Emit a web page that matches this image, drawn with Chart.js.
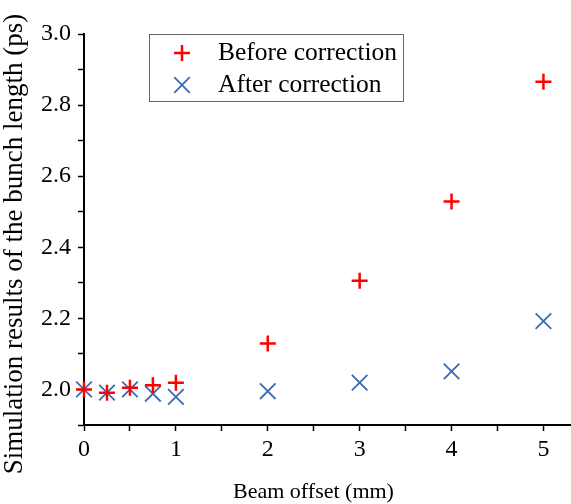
<!DOCTYPE html>
<html lang="en">
<head>
    <meta charset="UTF-8">
    <script src="https://cdn.jsdelivr.net/npm/chart.js@4.4.1/dist/chart.umd.min.js"></script>
    <title>Bunch length</title>
    <style>
        html, body { margin: 0; padding: 0; background: #fff; overflow: hidden; }
        canvas { display: block; }
    </style>
</head>
<body>
    <canvas id="grafico" width="571" height="504"></canvas>
<script>
    // dati
    var offset = [0, 0.25, 0.5, 0.75, 1, 2, 3, 4, 5];
    var beforeCorrection = [2.000, 1.991, 2.005, 2.012, 2.019, 2.129, 2.306, 2.529, 2.866];
    var afterCorrection = [2.000, 1.991, 2.000, 1.988, 1.979, 1.995, 2.019, 2.051, 2.192];
    var xTicks = [0, 0.5, 1, 1.5, 2, 2.5, 3, 3.5, 4, 4.5, 5];
    var yTicks = [1.9, 2.0, 2.1, 2.2, 2.3, 2.4, 2.5, 2.6, 2.7, 2.8, 2.9, 3.0];
    var xTitolo = 'Beam offset (mm)';
    var yTitolo = 'Simulation results of the bunch length (ps)';

    var serif = "'Liberation Serif', 'Times New Roman', serif";
    var red = 'rgb(255, 0, 0)';
    var blue = 'rgb(58, 106, 178)';

    function punti(ys) {
        return offset.map(function(x, i) { return {x: x, y: ys[i]}; });
    }

    // legenda con cornice dentro l'area del grafico + titoli degli assi
    var legendaBox = {
        id: 'legendaBox',
        afterDraw: function(chart) {
            var ctx = chart.ctx;
            ctx.save();
            ctx.strokeStyle = '#666';
            ctx.lineWidth = 1;
            ctx.strokeRect(149.5, 34.5, 254, 67);
            ctx.font = '25.5px ' + serif;
            ctx.fillStyle = '#000';
            ctx.textBaseline = 'middle';
            chart.data.datasets.forEach(function(ds, i) {
                var y = 53 + i * 32;
                ctx.strokeStyle = ds.borderColor;
                ctx.lineWidth = ds.borderWidth;
                Chart.helpers.drawPoint(ctx, {pointStyle: ds.pointStyle, radius: ds.pointRadius, rotation: 0, borderWidth: ds.borderWidth}, 182, y);
                ctx.fillStyle = '#000';
                ctx.fillText(ds.label, 218, y);
            });

            ctx.font = '22px ' + serif;
            ctx.textAlign = 'center';
            ctx.fillText(xTitolo, 313.5, 492);
            ctx.restore();

            ctx.save();
            ctx.translate(15, 244);
            ctx.rotate(-Math.PI / 2);
            ctx.font = '27px ' + serif;
            ctx.fillStyle = '#000';
            ctx.textAlign = 'center';
            ctx.textBaseline = 'middle';
            ctx.fillText(yTitolo, 0, 0);
            ctx.restore();
        }
    };

    var data = {
        datasets: [
        {
            label: 'Before correction',
            data: punti(beforeCorrection),
            pointStyle: 'cross',
            pointRadius: 8,
            borderWidth: 2.5,
            borderColor: red,
            backgroundColor: red,
            showLine: false,
            clip: false
        },
        {
            label: 'After correction',
            data: punti(afterCorrection),
            pointStyle: 'crossRot',
            pointRadius: 11,
            borderWidth: 1.8,
            borderColor: blue,
            backgroundColor: blue,
            showLine: false,
            clip: false
        }
        ]
    };

    var options = {
        responsive: false,
        animation: false,
        layout: { autoPadding: false, padding: { top: 34, right: 0, left: 0, bottom: 0 } },
        plugins: {
            legend: { display: false },
            tooltip: { enabled: false }
        },
        scales: {
            x: {
                type: 'linear',
                min: 0,
                max: 5.3,
                afterBuildTicks: function(scale) {
                    scale.ticks = xTicks.map(function(v) { return {value: v}; });
                },
                afterFit: function(scale) {
                    scale.height = 79;
                    scale.paddingRight = 0;
                    scale.paddingLeft = 0;
                },
                ticks: {
                    color: '#000',
                    padding: 4,
                    maxRotation: 0,
                    autoSkip: false,
                    font: { family: serif, size: 24 },
                    callback: function(v) { return Number.isInteger(v) ? String(v) : ''; }
                },
                grid: {
                    drawOnChartArea: false,
                    tickLength: 6,
                    tickColor: '#000',
                    tickWidth: 1.5
                },
                border: { display: true, color: '#000', width: 2 }
            },
            y: {
                min: 1.9,
                max: 3.0,
                afterBuildTicks: function(scale) {
                    scale.ticks = yTicks.map(function(v) { return {value: v}; });
                },
                afterFit: function(scale) { scale.width = 84; },
                ticks: {
                    color: '#000',
                    padding: 7,
                    autoSkip: false,
                    font: { family: serif, size: 24 },
                    callback: function(v) {
                        var t = Math.round(v * 10);
                        return (t >= 20 && t % 2 === 0) ? (t / 10).toFixed(1) : '';
                    }
                },
                grid: {
                    drawOnChartArea: false,
                    tickLength: 6,
                    tickColor: '#000',
                    tickWidth: 1.5
                },
                border: { display: true, color: '#000', width: 2 }
            }
        }
    };

    var myChart = new Chart('grafico', {
        type: 'scatter',
        data: data,
        options: options,
        plugins: [legendaBox]
    });
</script>
</body>
</html>
